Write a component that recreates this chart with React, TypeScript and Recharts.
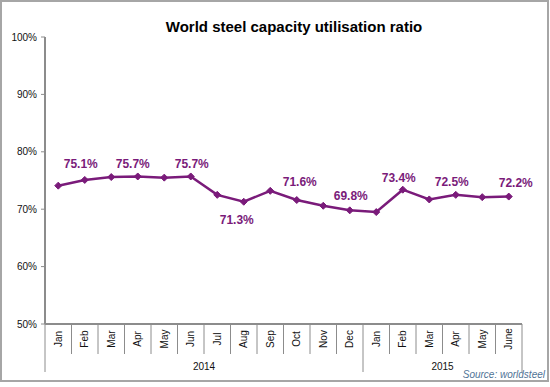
import React from "react";
import { LineChart, Line, XAxis, YAxis, LabelList } from "recharts";

const months = ["Jan", "Feb", "Mar", "Apr", "May", "Jun", "Jul", "Aug", "Sep", "Oct", "Nov", "Dec", "Jan", "Feb", "Mar", "Apr", "May", "June"];
const utilisation = [74.1, 75.1, 75.6, 75.7, 75.5, 75.7, 72.5, 71.3, 73.2, 71.6, 70.6, 69.8, 69.5, 73.4, 71.7, 72.5, 72.1, 72.2];
const labelledMonths = [1, 3, 5, 7, 9, 11, 13, 15, 17];
const yearLabels = ["2014", "2015"];
const yearSpans = [12, 6];
const yTicks = [50, 60, 70, 80, 90, 100];

const W = 550;
const H = 387;
const X_AXIS_H = 63;
const margin = { top: 37, right: 28, bottom: 0, left: 0 };
const Y_AXIS_W = 45;
const PLOT_W = W - margin.left - margin.right - Y_AXIS_W;
const BAND = PLOT_W / months.length;
const AXIS_Y = H - margin.bottom - X_AXIS_H;
const PURPLE = "#7a1b7a";
const GREY = "#8c8c8c";
const FONT = "Arial, 'Liberation Sans', sans-serif";

// label nudges, purely visual
const labelNudge: Record<number, [number, number]> = {
  1: [-4, -16],
  3: [-5, -12],
  5: [1, -12],
  7: [-7, 18],
  9: [3, -18],
  11: [1, -14],
  13: [-4, -12],
  15: [-4, -13],
  17: [7, -14],
};

const data = months.map((m, i) => ({ key: String(i), month: m, value: utilisation[i] }));

const yearStarts = yearSpans.map((_, i) => yearSpans.slice(0, i).reduce((a, b) => a + b, 0));

function MonthTick(props: any) {
  const { x, index } = props;
  const left = x - BAND / 2;
  const yearIdx = yearStarts.indexOf(index);
  const isYearStart = yearIdx >= 0;
  const isLast = index === months.length - 1;
  return (
    <g>
      <line x1={left} x2={left} y1={AXIS_Y} y2={isYearStart ? 372 : 354} stroke={GREY} strokeWidth={1} />
      {isLast && <line x1={x + BAND / 2} x2={x + BAND / 2} y1={AXIS_Y} y2={372} stroke={GREY} strokeWidth={1} />}
      <text
        x={x}
        y={339}
        transform={`rotate(-90 ${x} 339)`}
        textAnchor="middle"
        dominantBaseline="central"
        fontSize={10}
        fontFamily={FONT}
        fill="#111"
      >
        {months[index]}
      </text>
      {isYearStart && (
        <text
          x={left + (yearSpans[yearIdx] * BAND) / 2}
          y={366}
          textAnchor="middle"
          dominantBaseline="central"
          fontSize={10}
          fontFamily={FONT}
          fill="#111"
        >
          {yearLabels[yearIdx]}
        </text>
      )}
    </g>
  );
}

function Diamond(props: any) {
  const { cx, cy } = props;
  if (cx == null || cy == null) return null;
  const s = 3.5;
  return <polygon points={`${cx},${cy - s} ${cx + s},${cy} ${cx},${cy + s} ${cx - s},${cy}`} fill={PURPLE} stroke={PURPLE} />;
}

function ValueLabel(props: any) {
  const { x, y, value, index } = props;
  if (!labelledMonths.includes(index)) return null;
  const [dx, dy] = labelNudge[index] || [0, -13];
  return (
    <text
      x={x + dx}
      y={y + dy}
      textAnchor="middle"
      dominantBaseline="central"
      fontSize={12}
      fontWeight="bold"
      fontFamily={FONT}
      fill={PURPLE}
    >
      {value.toFixed(1)}%
    </text>
  );
}

export default function App() {
  return (
    <div style={{ position: "absolute", left: 0, top: 0, width: W, height: H, background: "#fff" }}>
      <div
        style={{
          position: "absolute",
          left: 0,
          top: 0,
          width: 549,
          height: 382,
          boxSizing: "border-box",
          border: "2px solid #a6a6a6",
        }}
      />
      <div
        style={{
          position: "absolute",
          left: 0,
          width: W,
          top: 18,
          textAlign: "center",
          fontFamily: FONT,
          fontWeight: "bold",
          fontSize: 15,
          color: "#000",
          paddingLeft: 38,
          boxSizing: "border-box",
        }}
      >
        World steel capacity utilisation ratio
      </div>
      <div
        style={{
          position: "absolute",
          right: 5,
          top: 369,
          fontFamily: FONT,
          fontStyle: "italic",
          fontSize: 10,
          color: "#4f7396",
        }}
      >
        Source: worldsteel
      </div>
      <div style={{ position: "absolute", left: 0, top: 0 }}>
        <LineChart width={W} height={H} data={data} margin={margin}>
          <XAxis
            dataKey="key"
            scale="band"
            interval={0}
            tickLine={false}
            axisLine={{ stroke: GREY, strokeWidth: 2 }}
            height={X_AXIS_H}
            tick={<MonthTick />}
          />
          <YAxis
            domain={[50, 100]}
            ticks={yTicks}
            width={Y_AXIS_W}
            tickFormatter={(v: number) => `${v}%`}
            axisLine={{ stroke: GREY, strokeWidth: 2 }}
            tickLine={{ stroke: GREY }}
            tickSize={4}
            tickMargin={4}
            tick={{ fontSize: 10, fill: "#111", fontFamily: FONT }}
          />
          <Line
            type="linear"
            dataKey="value"
            stroke={PURPLE}
            strokeWidth={2.5}
            dot={<Diamond />}
            activeDot={false}
            isAnimationActive={false}
          >
            <LabelList dataKey="value" content={<ValueLabel />} />
          </Line>
        </LineChart>
      </div>
    </div>
  );
}
